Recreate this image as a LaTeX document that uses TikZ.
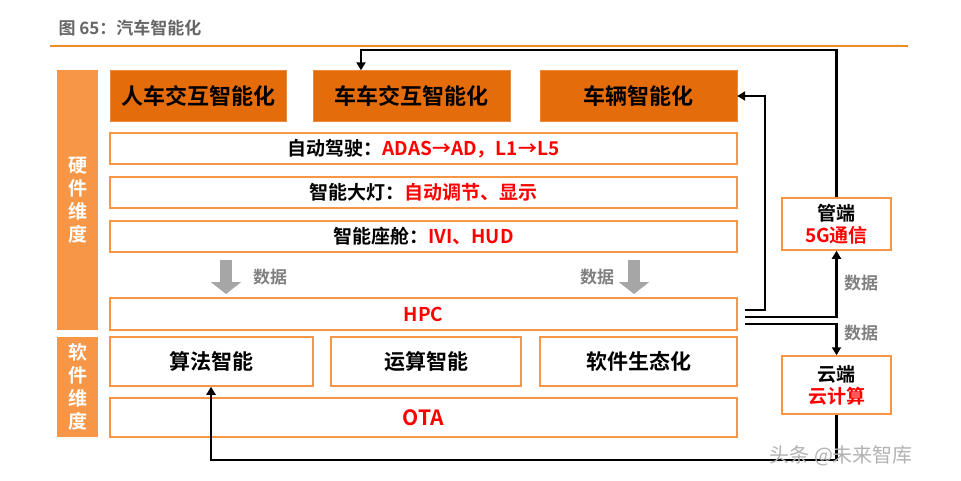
\documentclass[tikz,border=0pt]{standalone}
\usepackage{fontspec}
\setmainfont{Noto Sans CJK SC}[BoldFont={Noto Sans CJK SC Bold}]
\usetikzlibrary{arrows.meta,positioning,calc}
\definecolor{orgline}{HTML}{F08A24}
\definecolor{orgside}{HTML}{F79646}
\definecolor{orgtop}{HTML}{E46C0A}
\definecolor{redtxt}{HTML}{FF0000}
\tikzset{
  every node/.style={font=\bfseries},
  topbox/.style={fill=orgtop, draw=orgtop!80!white, font=\fontsize{22}{26}\selectfont\bfseries, inner sep=0pt},
  rowbox/.style={draw=orgside, line width=1.5pt, fill=white, font=\fontsize{19}{22}\selectfont\bfseries, inner sep=0pt},
  sidebox/.style={fill=orgside, text=white, align=center, font=\fontsize{19}{23}\selectfont\bfseries, inner sep=0pt},
  sidecloud/.style={draw=orgside, line width=1.5pt, fill=white, align=center, font=\fontsize{19}{22}\selectfont\bfseries, inner sep=0pt},
  arrow/.style={-{Triangle[length=8pt,width=9pt]}, line width=2.4pt},
  datalabel/.style={text=gray, font=\fontsize{17}{19}\selectfont\bfseries},
  grayarrow/.style={-{Triangle[length=12pt,width=30pt]}, line width=12pt, draw=gray!70}
}
\newcommand{\red}[1]{\textcolor{redtxt}{#1}}
\begin{document}
\begin{tikzpicture}[x=1pt,y=-1pt]
\useasboundingbox (0,0) rectangle (961,481);

% title and rule
\node[anchor=west, text=gray!80!black, font=\fontsize{17}{19}\selectfont\bfseries] (title) at (55,28) {图 65：汽车智能化};
\draw[orgline, line width=1.5pt] (50,46) -- (908,46);

% side labels
\node[sidebox, minimum width=41pt, minimum height=260pt] (hw) at (77.5,200) {硬\\件\\维\\度};
\node[sidebox, minimum width=41pt, minimum height=100pt] (sw) at (77.5,387) {软\\件\\维\\度};

% top orange boxes
\node[topbox, minimum width=176pt, minimum height=51pt] (hmi) at (198,96) {人车交互智能化};
\node[topbox, minimum width=197pt, minimum height=51pt] (v2v) at (411.5,96) {车车交互智能化};
\node[topbox, minimum width=197pt, minimum height=51pt] (veh) at (638.5,96) {车辆智能化};

% hardware rows
\node[rowbox, minimum width=627pt, minimum height=31pt] (ad) at (423.5,148.5) {自动驾驶：\red{ADAS→AD，L1→L5}};
\node[rowbox, minimum width=627pt, minimum height=31pt] (lamp) at (423.5,192.5) {智能大灯：\red{自动调节、显示}};
\node[rowbox, minimum width=627pt, minimum height=31pt] (cabin) at (423.5,236.5) {智能座舱：\red{IVI、HUD}};
\node[rowbox, minimum width=627pt, minimum height=32pt] (hpc) at (423.5,314) {\red{HPC}};

% data arrows
\coordinate (ga1) at (226,260);
\coordinate (ga2) at (634,260);
\draw[grayarrow] (ga1) -- ++(0,34);
\draw[grayarrow] (ga2) -- ++(0,34);
\node[datalabel] (d1) at (270,277) {数据};
\node[datalabel] (d2) at (597,277) {数据};

% software rows
\node[rowbox, minimum width=203pt, minimum height=49pt, font=\fontsize{21}{24}\selectfont\bfseries] (algo) at (211.5,361.5) {算法智能};
\node[rowbox, minimum width=190pt, minimum height=49pt, font=\fontsize{21}{24}\selectfont\bfseries] (comp) at (426,361.5) {运算智能};
\node[rowbox, minimum width=197pt, minimum height=49pt, font=\fontsize{21}{24}\selectfont\bfseries] (eco) at (638.5,361.5) {软件生态化};
\node[rowbox, minimum width=627pt, minimum height=39pt, font=\fontsize{21}{24}\selectfont\bfseries] (ota) at (423.5,417.5) {\red{OTA}};

% pipe and cloud
\node[sidecloud, minimum width=109pt, minimum height=52pt] (pipe) at (836.5,224) {管端\\\red{5G通信}};
\node[sidecloud, minimum width=109pt, minimum height=58pt] (cloud) at (836.5,385) {云端\\\red{云计算}};
\node[datalabel] (d3) at (861,283) {数据};
\node[datalabel] (d4) at (861,333) {数据};

% connectors
\coordinate (h1) at (745,310);
\coordinate (h2) at (745,317);
\coordinate (h3) at (745,324);
\draw[arrow] (h1) -- (765,310) |- (veh.east);
\draw[arrow] (h2) -| (pipe.south);
\draw[arrow] (h3) -| (cloud.north);
\draw[arrow] (pipe.north) |- (361,50) -- (v2v.north -| 361,0);
\draw[arrow] (cloud.south) |- (211,460) -- (algo.south -| 211,0);

% watermark
\node[anchor=west, text=gray!60, font=\fontsize{20}{22}\selectfont] (wm) at (766,456) {头条 @未来智库};
\end{tikzpicture}
\end{document}
